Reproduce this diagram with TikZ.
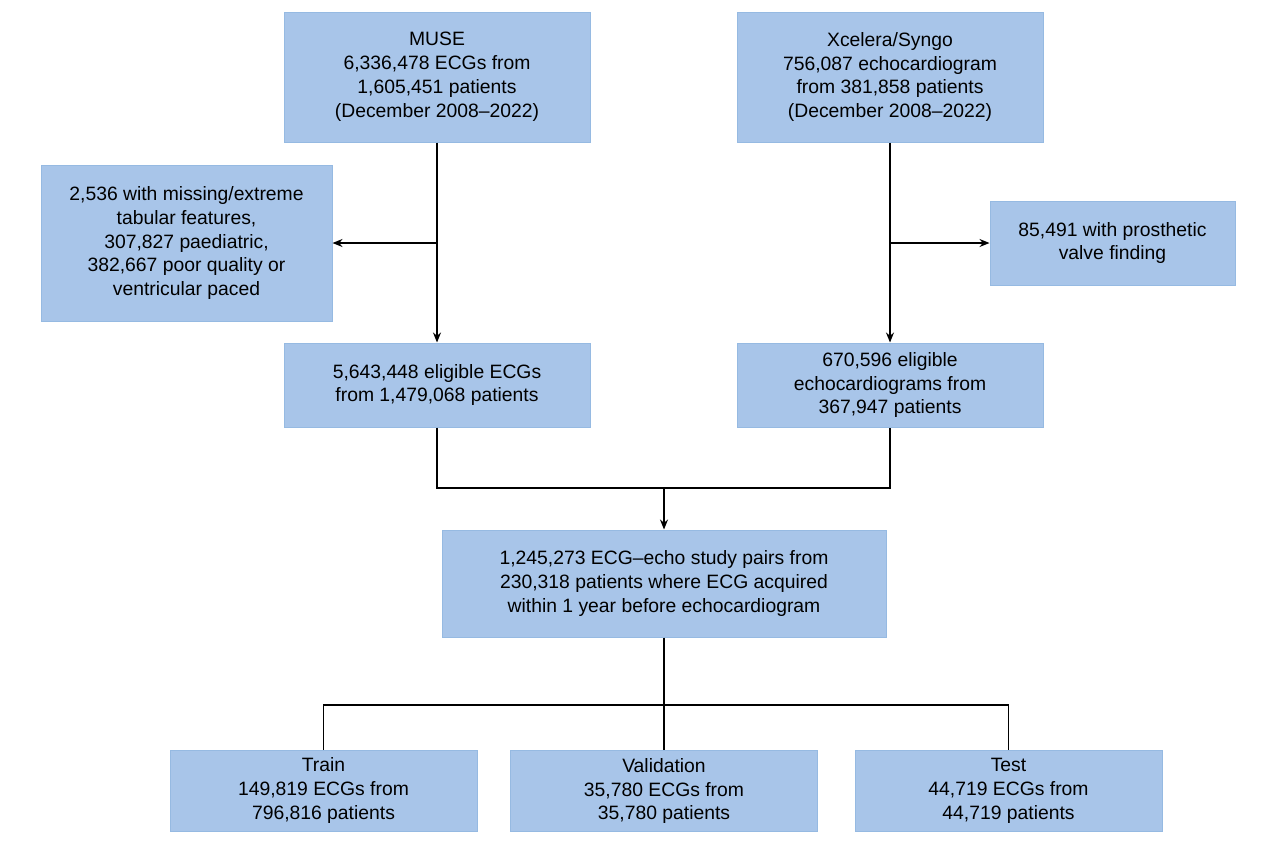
\documentclass[tikz,border=0pt]{standalone}
\usepackage{fontspec}
\setmainfont{Liberation Sans}
\usetikzlibrary{arrows.meta}
\tikzset{every picture/.style={line width=1pt}}

\begin{document}
\begin{tikzpicture}[x=0.75pt,y=0.75pt,yscale=-1,xscale=1,
  flowbox/.style={draw={rgb,255:red,150;green,186;blue,226}, fill={rgb,255:red,168;green,197;blue,233}, line width=0.75pt, align=center, inner sep=0pt, font=\fontsize{14.5}{17.9}\selectfont},
  link/.style={draw={rgb,255:red,0;green,0;blue,0}, line width=1pt},
  flow/.style={link, -{Stealth[length=7.5pt,width=6pt]}}]
\useasboundingbox (0,0) rectangle (1280,847);

%Sources
\node[flowbox, minimum width=229.5pt, minimum height=97.5pt] (muse) at (437,77) {MUSE\\6,336,478 ECGs from\\1,605,451 patients\\(December 2008--2022)};
\node[flowbox, minimum width=229.5pt, minimum height=97.5pt] (xcel) at (890,77) {Xcelera/Syngo\\756,087 echocardiogram\\from 381,858 patients\\(December 2008--2022)};

%Exclusions
\node[flowbox, minimum width=218.25pt, minimum height=117pt] (exclecg) at (186.5,243) {2,536 with missing/extreme\\tabular features,\\307,827 paediatric,\\382,667 poor quality or\\ventricular paced};
\node[flowbox, minimum width=183.75pt, minimum height=63pt] (exclecho) at (1112.5,243) {85,491 with prosthetic\\valve finding};

%Eligible
\node[flowbox, minimum width=229.5pt, minimum height=63pt] (eligecg) at (437,385) {5,643,448 eligible ECGs\\from 1,479,068 patients};
\node[flowbox, minimum width=229.5pt, minimum height=63pt] (eligecho) at (890,385) {670,596 eligible\\echocardiograms from\\367,947 patients};

%Pairs
\node[flowbox, minimum width=333pt, minimum height=80.25pt] (pairs) at (664,583.5) {1,245,273 ECG--echo study pairs from\\230,318 patients where ECG acquired\\within 1 year before echocardiogram};

%Splits
\node[flowbox, minimum width=230.25pt, minimum height=60.75pt] (train) at (323.5,790.5) {Train\\149,819 ECGs from\\796,816 patients};
\node[flowbox, minimum width=230.25pt, minimum height=60.75pt] (valid) at (664,791) {Validation\\35,780 ECGs from\\35,780 patients};
\node[flowbox, minimum width=230.25pt, minimum height=60.75pt] (test) at (1008.5,790.5) {Test\\44,719 ECGs from\\44,719 patients};

\coordinate (merge) at (664,488);
\coordinate (split) at (664,705);

%Connectors
\draw[flow] (muse.south) -- (eligecg.north);
\draw[flow] (muse.south |- exclecg.east) -- (exclecg.east);
\draw[flow] (xcel.south) -- (eligecho.north);
\draw[flow] (xcel.south |- exclecho.west) -- (exclecho.west);
\draw[link] (eligecg.south) |- (merge) -| (eligecho.south);
\draw[flow] (merge) -- (pairs.north);
\draw[link] (pairs.south) -- (split);
\draw[link] (train.north) |- (split) -| (test.north);
\draw[link] (split) -- (valid.north);

\end{tikzpicture}
\end{document}
